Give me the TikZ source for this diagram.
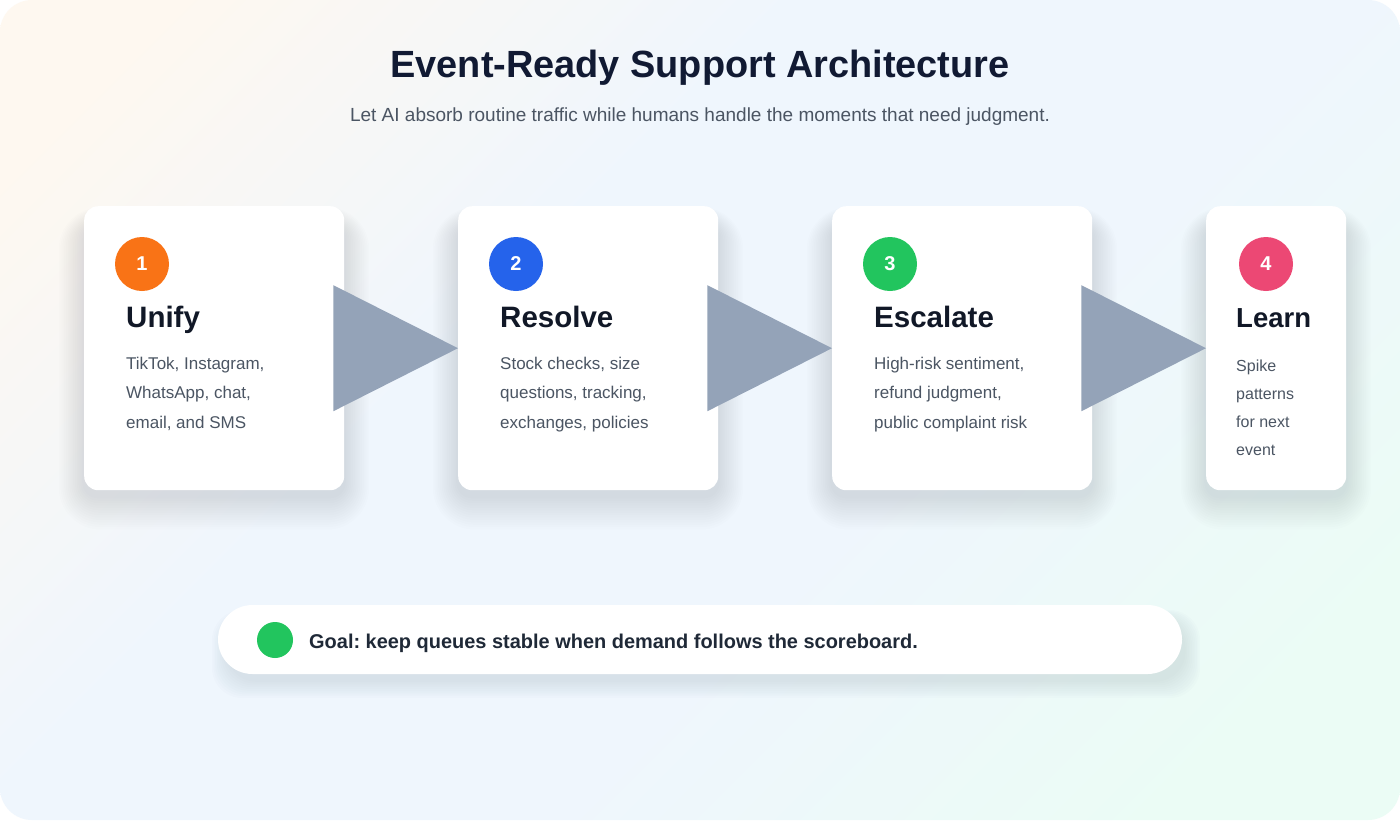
\documentclass[tikz,border=0pt]{standalone}
\usepackage{fontspec}
\setmainfont{Liberation Sans}
\usetikzlibrary{positioning}
\frenchspacing

\definecolor{warmc}{HTML}{FEF8F0}
\definecolor{skyc}{HTML}{EFF6FD}
\definecolor{mintc}{HTML}{EBFCF5}
\definecolor{titlec}{HTML}{111A33}
\definecolor{subc}{HTML}{4B5563}
\definecolor{headc}{HTML}{111827}
\definecolor{bodyc}{HTML}{4B5563}
\definecolor{goalc}{HTML}{1F2937}
\definecolor{arrowc}{HTML}{94A3B8}
\definecolor{shadowc}{HTML}{3B4A63}
\definecolor{orangec}{HTML}{F97316}
\definecolor{bluec}{HTML}{2563EB}
\definecolor{greenc}{HTML}{22C55E}
\definecolor{rosec}{HTML}{EC4874}

% diagonal page wash
\pgfdeclareverticalshading{pagewash}{100bp}{color(0bp)=(mintc); color(22bp)=(mintc); color(42bp)=(skyc); color(60bp)=(skyc); color(80bp)=(warmc); color(100bp)=(warmc)}

\begin{document}
\begin{tikzpicture}[x=1pt,y=-1pt,
	card/.style={fill=white, rounded corners=14pt, minimum width=260pt, minimum height=284pt, anchor=north west, inner sep=0pt},
	badge/.style={circle, minimum size=54pt, inner sep=0pt, text=white, font=\bfseries\fontsize{20}{24}\selectfont},
	heading/.style={anchor=base west, inner sep=0pt, text=headc, font=\bfseries\fontsize{29.5}{34}\selectfont},
	body/.style={anchor=north west, inner sep=0pt, align=left, text=bodyc, font=\fontsize{17}{29.5}\selectfont},
	pointer/.style={fill=arrowc}]

	% background
	\useasboundingbox (0,0) rectangle (1400,820);
	\fill[white] (0,0) rectangle (1400,820);
	\shade[rounded corners=32pt, shading=pagewash, shading angle=45] (0,0) rectangle (1400,820);

	% title
	\node[anchor=base, inner sep=0pt, text=titlec, font=\bfseries\fontsize{37.9}{44}\selectfont] (title) at (700,77) {Event-Ready Support Architecture};
	\node[anchor=base, inner sep=0pt, text=subc, font=\fontsize{19}{22}\selectfont] (subtitle) at (700,121.5) {Let AI absorb routine traffic while humans handle the moments that need judgment.};

	% soft shadows under the cards
	\foreach \x/\w in {84/260,458/260,832/260,1206/140}
		\foreach \k in {1,...,14}
			\fill[shadowc, opacity=0.009, rounded corners=14pt+\k*2pt] (\x-1.8*\k, 224-1.2*\k) rectangle (\x+\w+1.8*\k, 496+2.4*\k);

	% cards
	\node[card] (unify) at (84,206) {};
	\node[card] (resolve) at (458,206) {};
	\node[card] (escalate) at (832,206) {};
	\node[card, minimum width=140pt] (learn) at (1206,206) {};

	% arrows between the cards
	\fill[pointer] ([xshift=-11pt,yshift=63pt]unify.east) -- ([xshift=-11pt,yshift=-63pt]unify.east) -- (resolve.west) -- cycle;
	\fill[pointer] ([xshift=-11pt,yshift=63pt]resolve.east) -- ([xshift=-11pt,yshift=-63pt]resolve.east) -- (escalate.west) -- cycle;
	\fill[pointer] ([xshift=-11pt,yshift=63pt]escalate.east) -- ([xshift=-11pt,yshift=-63pt]escalate.east) -- (learn.west) -- cycle;

	% step 1
	\node[badge, fill=orangec] (one) at ([xshift=58pt,yshift=-58pt]unify.north west) {1};
	\node[heading] (unifyt) at ([xshift=42pt,yshift=-121pt]unify.north west) {Unify};
	\node[body] (unifyd) at ([xshift=42pt,yshift=-150.5pt]unify.north west) {TikTok, Instagram,\\WhatsApp, chat,\\email, and SMS};

	% step 2
	\node[badge, fill=bluec] (two) at ([xshift=58pt,yshift=-58pt]resolve.north west) {2};
	\node[heading] (resolvet) at ([xshift=42pt,yshift=-121pt]resolve.north west) {Resolve};
	\node[body] (resolved) at ([xshift=42pt,yshift=-150.5pt]resolve.north west) {Stock checks, size\\questions, tracking,\\exchanges, policies};

	% step 3
	\node[badge, fill=greenc] (three) at ([xshift=58pt,yshift=-58pt]escalate.north west) {3};
	\node[heading] (escalatet) at ([xshift=42pt,yshift=-121pt]escalate.north west) {Escalate};
	\node[body] (escalated) at ([xshift=42pt,yshift=-150.5pt]escalate.north west) {High-risk sentiment,\\refund judgment,\\public complaint risk};

	% step 4
	\node[badge, fill=rosec] (four) at ([xshift=60pt,yshift=-58pt]learn.north west) {4};
	\node[heading, font=\bfseries\fontsize{27.5}{32}\selectfont] (learnt) at ([xshift=30pt,yshift=-121pt]learn.north west) {Learn};
	\node[body, font=\fontsize{16}{28}\selectfont] (learnd) at ([xshift=30pt,yshift=-154pt]learn.north west) {Spike\\patterns\\for next\\event};

	% goal bar
	\foreach \k in {1,...,10}
		\fill[shadowc, opacity=0.011, rounded corners=30pt] (228-1.6*\k, 620-\k) rectangle (1184+1.6*\k, 680+1.8*\k);
	\node[fill=white, rounded corners=34.5pt, minimum width=964pt, minimum height=69pt, inner sep=0pt] (goal) at (700,639.5) {};
	\node[circle, fill=greenc, minimum size=36pt, inner sep=0pt] (dot) at (275,640) {};
	\node[anchor=base west, inner sep=0pt, text=goalc, font=\bfseries\fontsize{19.95}{22}\selectfont] (goalt) at (309,648) {Goal: keep queues stable when demand follows the scoreboard.};

\end{tikzpicture}
\end{document}
